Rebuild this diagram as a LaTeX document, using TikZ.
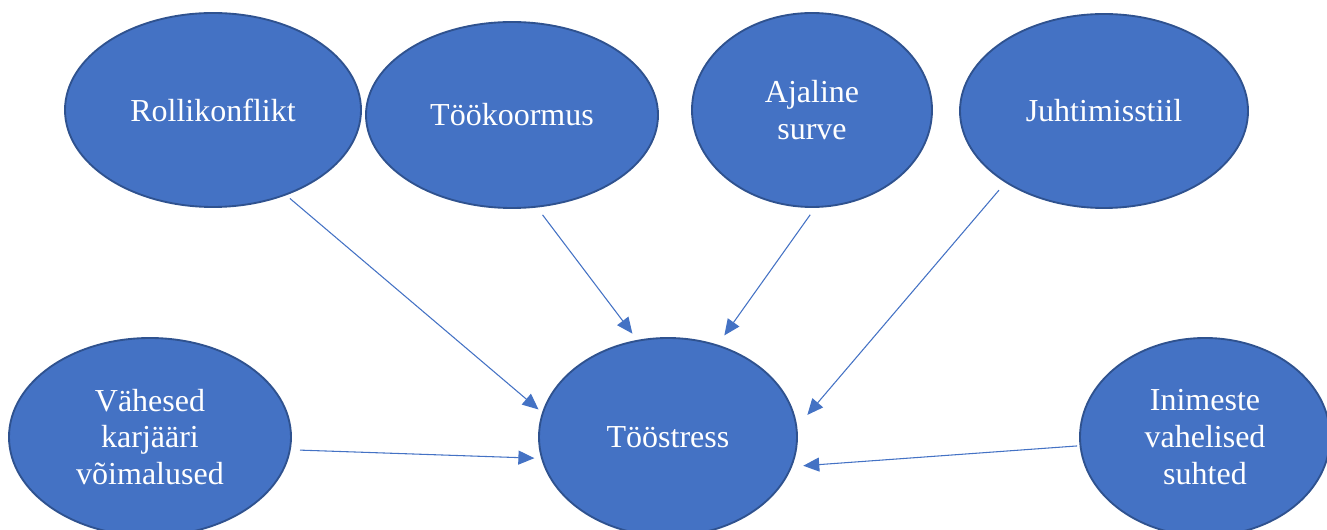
\documentclass[tikz,border=0pt]{standalone}
\usepackage{fontspec}
\setmainfont{Liberation Serif}
\usetikzlibrary{shapes.geometric,arrows.meta,calc}
\definecolor{nodefill}{HTML}{4472C4}
\definecolor{nodeedge}{HTML}{2F528F}
\definecolor{arrowcol}{HTML}{4472C4}
\begin{document}
\begin{tikzpicture}[x=0.75pt,y=-0.75pt,
  ell/.style={shape=ellipse,inner sep=0pt,fill=nodefill,draw=nodeedge,line width=1.4pt,
    text=white,align=center,font=\fontsize{24pt}{27.5pt}\selectfont},
  conn/.style={draw=arrowcol,line width=0.8pt,-{Triangle[length=12pt,width=10.5pt]}}]
\useasboundingbox (0,0) rectangle (1327,530);
\node[ell,minimum width=222pt,minimum height=145.5pt] (rolli) at (213,110) {Rollikonflikt};
\node[ell,minimum width=219pt,minimum height=139.5pt] (too) at (512,115) {Töökoormus};
\node[ell,minimum width=180pt,minimum height=145.5pt] (aja) at (812,110) {Ajaline\\surve};
\node[ell,minimum width=216pt,minimum height=145.5pt] (juht) at (1104,111) {Juhtimisstiil};
\node[ell,minimum width=211.5pt,minimum height=148.5pt] (vah) at (150,437) {Vähesed\\karjääri\\võimalused};
\node[ell,minimum width=193.5pt,minimum height=148.5pt] (stress) at (668,437) {Tööstress};
\node[ell,minimum width=187.5pt,minimum height=148.5pt] (inim) at (1205,437) {Inimeste\\vahelised\\suhted};
\draw[conn] ($(rolli.center)!1.04!(rolli.-49.6)$) -- ($(stress.center)!1.034!(stress.168.6)$);
\draw[conn] ($(too.center)!1.083!(too.-73.7)$) -- ($(stress.center)!1.07!(stress.109.9)$);
\draw[conn] ($(aja.center)!1.07!(aja.-91.7)$) -- ($(stress.center)!1.105!(stress.61.4)$);
\draw[conn] ($(juht.center)!1.085!(juht.-143.4)$) -- ($(stress.center)!1.095!(stress.9.5)$);
\draw[conn] ($(vah.center)!1.065!(vah.-5)$) -- ($(stress.center)!1.05!(stress.-171)$);
\draw[conn] ($(inim.center)!1.02!(inim.-176.8)$) -- ($(stress.center)!1.08!(stress.-12.2)$);
\end{tikzpicture}
\end{document}
